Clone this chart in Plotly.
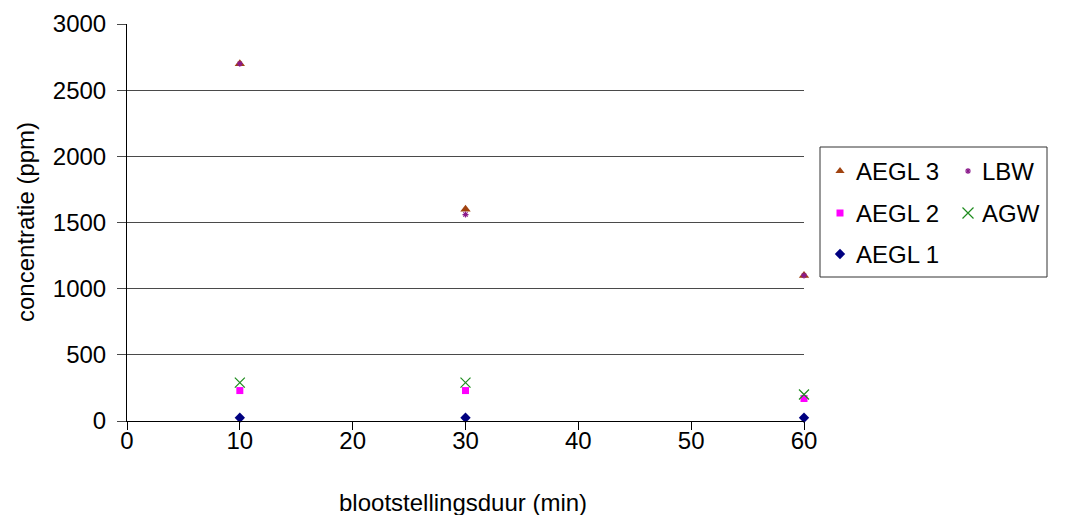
import plotly.graph_objects as go

W, H = 1078, 515

# ---- data ----
durations = [10, 30, 60]
aegl3 = [2700, 1600, 1100]
lbw = [2700, 1560, 1100]
aegl2 = [230, 230, 170]
agw = [290, 290, 200]
aegl1 = [25, 25, 25]

x_ticks = [0, 10, 20, 30, 40, 50, 60]
y_ticks = [0, 500, 1000, 1500, 2000, 2500, 3000]

series_names = ["AEGL 3", "LBW", "AEGL 2", "AGW", "AEGL 1"]

FONT = "Liberation Sans, Arial, sans-serif"
FS = 24

styles = {
    "AEGL 3": dict(symbol="triangle-up", color="#A0420F", size=9, line=dict(width=0)),
    "LBW": dict(symbol="asterisk-open", color="#8B1A8B", size=5, line=dict(width=1.2, color="#8B1A8B")),
    "AEGL 2": dict(symbol="square", color="#FF00FF", size=7, line=dict(width=0)),
    "AGW": dict(symbol="x-thin-open", color="#1E8C1E", size=10, line=dict(width=1.2, color="#1E8C1E")),
    "AEGL 1": dict(symbol="diamond", color="#000080", size=8, line=dict(width=0)),
}
values = {"AEGL 3": aegl3, "LBW": lbw, "AEGL 2": aegl2, "AGW": agw, "AEGL 1": aegl1}

fig = go.Figure()

for name in ["AEGL 1", "AEGL 2", "AEGL 3", "LBW", "AGW"]:
    st = styles[name]
    fig.add_trace(go.Scatter(
        x=durations, y=values[name], mode="markers", name=name,
        marker=dict(symbol=st["symbol"], color=st["color"], size=st["size"], line=st["line"]),
        showlegend=False, xaxis="x", yaxis="y", cliponaxis=False,
    ))

# ---- manual two-column legend on its own axes (pixel-like coordinates) ----
leg_layout = [("AEGL 3", 0, 0), ("LBW", 1, 0), ("AEGL 2", 0, 1), ("AGW", 1, 1), ("AEGL 1", 0, 2)]
col_marker_x = [20, 148]
col_text_x = [34, 160]
row_y = [24, 66, 107]
leg_annotations = []
for name, c, r in leg_layout:
    st = styles[name]
    leg_size = min(st["size"], 8) if name != "AGW" else 11
    fig.add_trace(go.Scatter(
        x=[col_marker_x[c]], y=[row_y[r]], mode="markers",
        marker=dict(symbol=st["symbol"], color=st["color"], size=leg_size, line=st["line"]),
        showlegend=False, xaxis="x2", yaxis="y2", hoverinfo="skip", cliponaxis=False,
    ))
    leg_annotations.append(dict(
        text=name, x=col_text_x[c], y=row_y[r], xref="x2", yref="y2", showarrow=False,
        xanchor="left", yanchor="middle", font=dict(family=FONT, size=FS, color="black"),
    ))

axis_common = dict(automargin=False)

fig.update_layout(
    width=W, height=H,
    margin=dict(l=0, r=0, t=0, b=0, pad=0),
    paper_bgcolor="white", plot_bgcolor="white",
    font=dict(family=FONT, size=FS, color="black"),
    showlegend=False,
    xaxis=dict(
        domain=[127 / W, 804 / W], range=[0, 60], tickvals=x_ticks,
        showgrid=False, zeroline=False, showline=True, linecolor="black", linewidth=1,
        ticks="outside", ticklen=8, tickcolor="black", tickwidth=1,
        tickfont=dict(family=FONT, size=FS, color="black"), anchor="y",
        ticklabelstandoff=-10, **axis_common,
    ),
    yaxis=dict(
        domain=[(H - 421) / H, (H - 24) / H], range=[0, 3000], tickvals=y_ticks,
        showgrid=True, gridcolor="#4a4a4a", gridwidth=1, zeroline=False,
        showline=True, linecolor="black", linewidth=1,
        ticks="outside", ticklen=9, tickcolor="#4a4a4a", tickwidth=1,
        tickfont=dict(family=FONT, size=FS, color="black"), anchor="x",
        ticklabelstandoff=6, **axis_common,
    ),
    xaxis2=dict(domain=[820 / W, 1047 / W], range=[0, 227], visible=False, anchor="y2",
                fixedrange=True, **axis_common),
    yaxis2=dict(domain=[(H - 277) / H, (H - 147) / H], range=[130, 0], visible=False, anchor="x2",
                fixedrange=True, **axis_common),
    shapes=[dict(type="rect", xref="x2 domain", yref="y2 domain", x0=0, x1=1, y0=0, y1=1,
                 line=dict(color="#333333", width=1), fillcolor="rgba(0,0,0,0)")],
    annotations=leg_annotations + [
        dict(text="blootstellingsduur (min)", x=463 / W, y=(H - 502) / H, xref="paper", yref="paper",
             showarrow=False, font=dict(family=FONT, size=FS, color="black"), xanchor="center", yanchor="middle"),
        dict(text="concentratie (ppm)", x=25 / W, y=(H - 222) / H, xref="paper", yref="paper",
             showarrow=False, textangle=-90, font=dict(family=FONT, size=FS, color="black"),
             xanchor="center", yanchor="middle"),
    ],
)

fig.write_html("out.html")
